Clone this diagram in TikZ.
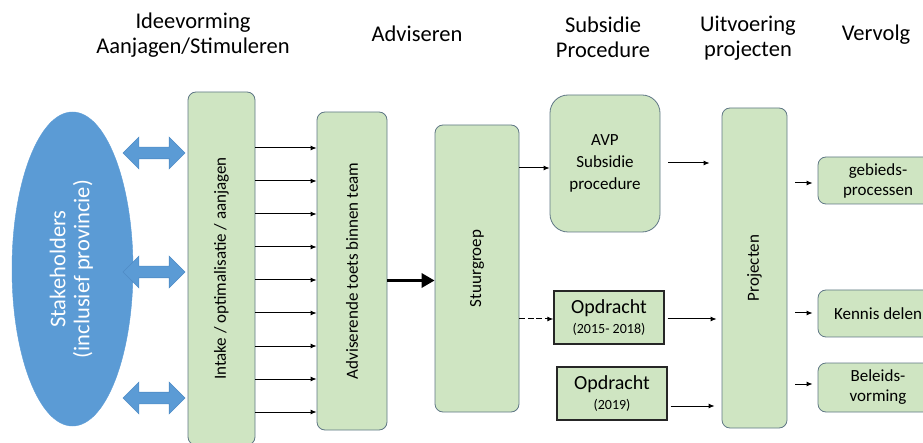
\documentclass[tikz,border=0pt]{standalone}
\usepackage{fontspec}
\setmainfont{Carlito}
\usetikzlibrary{shapes.geometric,shapes.arrows,arrows.meta}
\definecolor{boxgreen}{HTML}{CFE5C2}
\definecolor{boxline}{HTML}{5F7785}
\definecolor{stblue}{HTML}{5B9BD5}
\definecolor{stline}{HTML}{4F8CC6}
\tikzset{
  gbox/.style={draw=boxline, fill=boxgreen, line width=0.8pt, rounded corners=8pt,
    inner sep=0pt, align=center, font=\fontsize{17}{20}\selectfont},
  obox/.style={draw=black!85, fill=boxgreen, line width=1.3pt, inner sep=0pt,
    align=center, font=\fontsize{20}{20}\selectfont},
  hdr/.style={font=\fontsize{22.5}{25}\selectfont, align=center, inner sep=0pt},
  darr/.style={double arrow, draw=stline, fill=stblue, line width=0.6pt,
    minimum height=62pt, minimum width=31pt, double arrow head extend=10pt,
    double arrow head indent=0pt, inner sep=5.5pt},
  conn/.style={-{Latex[length=6pt,width=5pt]}, line width=1pt},
}
\begin{document}
\begin{tikzpicture}[x=1pt,y=-1pt]
\useasboundingbox (0,0) rectangle (923,443);
\clip (0,0) rectangle (923,443);

% headers
\node[hdr] (h1) at (193,35.5) {Ideevorming\\Aanjagen/Stimuleren};
\node[hdr] (h2) at (417,34) {Adviseren};
\node[hdr] (h3) at (603,37) {Subsidie\\Procedure};
\node[hdr] (h4) at (748,38.5) {Uitvoering\\projecten};
\node[hdr] (h5) at (876,35) {Vervolg};

% stakeholders
\node[ellipse, draw=stblue, fill=stblue, minimum width=121pt, minimum height=314pt,
  inner sep=0pt, text=white, font=\fontsize{22.5}{24}\selectfont] (stake) at (72.5,269)
  {\rotatebox{90}{\begin{tabular}{@{}c@{}}Stakeholders\\(inclusief provincie)\end{tabular}}};

\node[darr] (da1) at (154,153) {};
\node[darr] (da2) at (154,272) {};
\node[darr] (da3) at (154,398) {};

% main boxes
\node[gbox, minimum width=67pt, minimum height=353pt] (intake) at (221.5,268.5)
  {\rotatebox{90}{Intake / optimalisatie / aanjagen}};
\node[gbox, minimum width=70pt, minimum height=318pt] (advis) at (352,271)
  {\rotatebox{90}{Adviserende toets binnen team}};
\node[gbox, minimum width=84pt, minimum height=287pt] (stuur) at (477,268.5)
  {\rotatebox{90}{Stuurgroep}};
\node[gbox, rounded corners=18pt, minimum width=110pt, minimum height=137pt,
  font=\fontsize{17}{21.7}\selectfont] (avp) at (605,163.5) {AVP\\Subsidie\\procedure};
\node[obox, minimum width=110pt, minimum height=53pt] (opd1) at (609,317.5)
  {Opdracht\\{\fontsize{14}{16}\selectfont (2015- 2018)}};
\node[obox, minimum width=110pt, minimum height=53pt] (opd2) at (612,393.5)
  {Opdracht\\{\fontsize{14}{16}\selectfont (2019)}};
\node[gbox, minimum width=65pt, minimum height=320pt] (proj) at (754.5,268)
  {\rotatebox{90}{Projecten}};

% outputs
\node[gbox, minimum width=120pt, minimum height=47pt] (o1) at (878,180.5) {gebieds-\\processen};
\node[gbox, minimum width=120pt, minimum height=47pt] (o2) at (878,313.5) {Kennis delen};
\node[gbox, minimum width=120pt, minimum height=49pt] (o3) at (878,387.5) {Beleids-\\vorming};

% intake -> advis
\foreach \i in {0,...,8}{
  \pgfmathsetmacro\yy{148+33*\i}
  \coordinate (s\i) at (intake.east |- 0,\yy);
  \draw[conn] (s\i) -- (s\i -| advis.west);
}

% advis -> stuur
\coordinate (tk) at (advis.east |- 0,280.5);
\draw[-{Triangle[length=13pt,width=14pt]}, line width=3.5pt] (tk) -- (tk -| stuur.west);

% stuur -> avp / opd1
\coordinate (sa) at (stuur.east |- 0,168);
\draw[conn] (sa) -- (sa -| avp.west);
\coordinate (so) at (stuur.east |- 0,319);
\draw[conn, dash pattern=on 6pt off 2.5pt] (so) -- (so -| opd1.west);

% to projecten
\coordinate (ap) at (avp.east |- 0,163);
\draw[conn, shorten <=8pt, shorten >=12pt] (ap) -- (ap -| proj.west);
\coordinate (op1) at (opd1.east |- 0,319);
\draw[conn, shorten <=3pt, shorten >=5pt] (op1) -- (op1 -| proj.west);
\coordinate (op2) at (opd2.east |- 0,406);
\draw[conn, shorten <=3pt, shorten >=7pt] (op2) -- (op2 -| proj.west);

% projecten -> outputs
\coordinate (p1) at (proj.east |- 0,183);
\draw[conn, shorten <=8pt, shorten >=5pt] (p1) -- (p1 -| o1.west);
\coordinate (p2) at (proj.east |- 0,313);
\draw[conn, shorten <=8pt, shorten >=5pt] (p2) -- (p2 -| o2.west);
\coordinate (p3) at (proj.east |- 0,384);
\draw[conn, shorten <=8pt, shorten >=5pt] (p3) -- (p3 -| o3.west);
\end{tikzpicture}
\end{document}
